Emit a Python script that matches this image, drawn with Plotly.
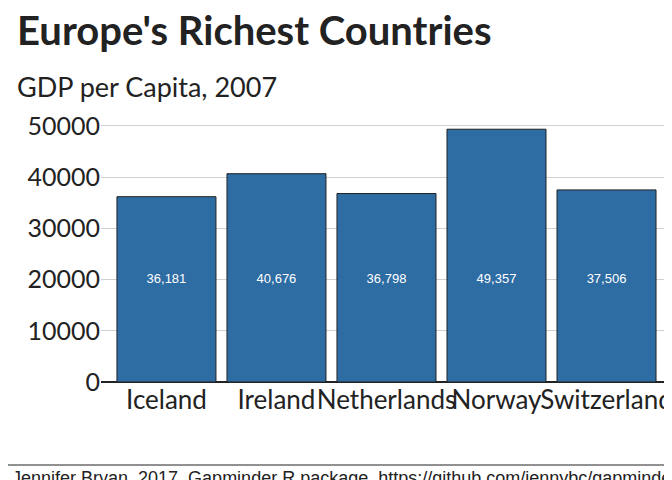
import plotly.graph_objects as go

countries = ["Iceland", "Ireland", "Netherlands", "Norway", "Switzerland"]
gdp = [36181, 40676, 36798, 49357, 37506]
labels = [f"{v:,}" for v in gdp]
label_y = [20000] * len(countries)

fig = go.Figure()
fig.add_trace(go.Bar(
    x=countries, y=gdp, width=0.9,
    marker=dict(color="#2e6ca4", line=dict(color="#222222", width=1)),
))
fig.add_trace(go.Scatter(
    x=countries, y=label_y, text=labels, mode="text",
    textfont=dict(color="white", size=13, family="Liberation Sans"),
))
fig.update_layout(
    width=672, height=480, plot_bgcolor="white", paper_bgcolor="white",
    showlegend=False, bargap=0.1,
    margin=dict(l=93, r=0, t=100, b=106, autoexpand=False),
    font=dict(family="Lato", color="#222222"),
    xaxis=dict(range=[-0.595, 4.668], tickfont=dict(size=26), ticks="",
               showline=False, tickangle=0, automargin=False),
    yaxis=dict(range=[0, 53500], tickvals=[0, 10000, 20000, 30000, 40000, 50000],
               tickformat="d", tickfont=dict(size=25), gridcolor="#d0d0d0",
               zeroline=True, zerolinecolor="#222222", zerolinewidth=2,
               ticksuffix=" ", automargin=False),
)
fig.add_annotation(text="<b>Europe's Richest Countries</b>", xref="paper", yref="paper",
                   x=-86/579, y=1 + 78/274, xanchor="left", yanchor="middle",
                   showarrow=False, font=dict(size=40, family="Lato", color="#222222"))
fig.add_annotation(text="GDP per Capita, 2007", xref="paper", yref="paper",
                   x=-86/579, y=1 + 22/274, xanchor="left", yanchor="middle",
                   showarrow=False, font=dict(size=27, family="Lato", color="#222222"))
fig.add_shape(type="line", xref="paper", yref="paper", x0=-93/579, x1=1,
              y0=-83/274, y1=-83/274, line=dict(color="#222222", width=1))
fig.add_annotation(text="Jennifer Bryan, 2017, Gapminder R package, https://github.com/jennybc/gapminder",
                   xref="paper", yref="paper", x=-91/579, y=-96/274, xanchor="left",
                   yanchor="middle", showarrow=False,
                   font=dict(size=18, family="Liberation Sans", color="#222222"))
fig.write_html("out.html")
